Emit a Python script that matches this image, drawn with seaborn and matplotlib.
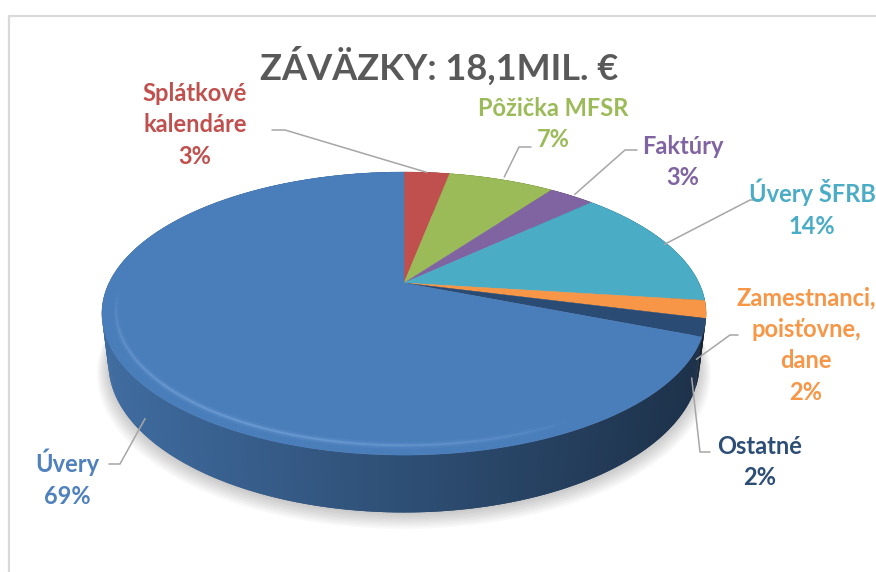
import numpy as np
import matplotlib
matplotlib.use("Agg")
import matplotlib.pyplot as plt
import seaborn as sns
from matplotlib import colors as mcolors

# data
title = "ZÁVÄZKY: 18,1MIL. €"
labels = ["Splátkové\nkalendáre", "Pôžička MFSR", "Faktúry", "Úvery ŠFRB",
          "Zamestnanci,\npoisťovne,\ndane", "Ostatné", "Úvery"]
shares = [3, 7, 3, 14, 2, 2, 69]
slice_colors = ["#C0504D", "#9BBB59", "#8064A2", "#4BACC6", "#F79646", "#2A4B73", "#4A7EBB"]
text_colors = ["#C0504D", "#9BBB59", "#8064A2", "#4BACC6", "#F79646", "#2C4D75", "#4F81BD"]

# layout (pixel space)
label_xy = [(195, 125), (553, 124), (683, 162), (812, 208), (806, 345), (760, 462), (67, 478)]
leader_anchor = [(1.0, 0.0), (1.03, 0.0), (1.02, 0.0), (0.99, 0.0), (0.99, -1.0), (0.98, -1.0), (0.96, -1.0)]
leader_elbow = [[(285, 130), (272, 130)], [(519, 147), (531, 147)], [(625, 150), (637, 150)],
                [(750, 200), (760, 200)], [(730, 335), (738, 335)], [(700, 452), (710, 452)],
                [(120, 464), (109, 464)]]

CX, CY, S = 404, 283, 295
SA, CA, DIST, DEPTH = 0.4575, 0.889, 4.12, 0.19


def project(theta, r=1.0, z=0.0):
    t = np.radians(theta)
    X = r * np.sin(t)
    Y = r * np.cos(t)
    w = 1 + (Y * CA - z * SA) / DIST
    return CX + S * X / w, CY - S * (Y * SA + z * CA) / w


def main():
    sns.set_theme(style="white")
    plt.rcParams["font.family"] = ["Lato", "DejaVu Sans"]

    fig = plt.figure(figsize=(8.76, 5.72), dpi=100)
    ax = fig.add_axes([0, 0, 1, 1])
    ax.set_xlim(0, 876)
    ax.set_ylim(572, 0)
    ax.axis("off")

    ax.plot([9, 9, 876], [572, 15.5, 15.5], color="#D9D9D9", lw=1.6)

    bounds = np.concatenate([[0], np.cumsum(shares)]) / sum(shares) * 360

    # soft shadow
    th = np.linspace(0, 360, 361)
    for k in range(7):
        sx, sy = project(th, 1.0 + 0.006 * k, -DEPTH)
        ax.fill(sx, np.asarray(sy) + 2 + k, color="black", alpha=0.03, lw=0)

    # side walls, drawn back to front in thin overlapping strips
    segs = []
    for i, col in enumerate(slice_colors):
        a0, a1 = bounds[i], bounds[i + 1]
        n = max(int(2 * (a1 - a0)), 1)
        edges = np.linspace(a0, a1, n + 1)
        for s0, s1 in zip(edges[:-1], edges[1:]):
            segs.append((np.cos(np.radians((s0 + s1) / 2)), s0, min(s1 + 0.6, a1), col))
    segs.sort(key=lambda s: -s[0])
    for _, s0, s1, col in segs:
        tt = np.linspace(s0, s1, 4)
        tx, ty = project(tt)
        bx, by = project(tt[::-1], 1.0, -DEPTH)
        xm = (tx.mean() - 100) / 605
        f = 0.86 - 0.47 * np.clip(xm, 0, 1)
        rgb = np.array(mcolors.to_rgb(col)) * f
        ax.fill(np.concatenate([tx, bx]), np.concatenate([ty, by]), color=rgb, lw=0)

    # top surface
    for i, col in enumerate(slice_colors):
        tt = np.linspace(bounds[i], bounds[i + 1], max(int(bounds[i + 1] - bounds[i]) * 2, 4))
        rx, ry = project(tt)
        ax.fill(np.concatenate([[CX], rx]), np.concatenate([[CY], ry]), color=col, lw=0.3, ec=col)

    # soft bevel highlight on the front rim, fading at both ends
    hb = np.linspace(150, 268, 60)
    fade = np.sin(np.linspace(0, np.pi, 59)) ** 0.7
    hx, hy = project(hb, 0.955)
    for j in range(59):
        for lw, al in [(5, 0.08), (2.5, 0.14), (1.2, 0.22)]:
            ax.plot(hx[j:j + 2], hy[j:j + 2], color="#9CC3F2", lw=lw, alpha=al * fade[j],
                    solid_capstyle="butt")

    # leaders and labels
    for i in range(len(shares)):
        mid = (bounds[i] + bounds[i + 1]) / 2
        r, zf = leader_anchor[i]
        px, py = project(mid, r, zf * DEPTH)
        pts = [(px, py)] + leader_elbow[i]
        ax.plot([p[0] for p in pts], [p[1] for p in pts], color="#A6A6A6", lw=1.1)
        x, y = label_xy[i]
        ax.text(x, y, f"{labels[i]}\n{shares[i]}%", ha="center", va="center",
                fontsize=17, fontweight="bold", color=text_colors[i], linespacing=1.45)

    ax.text(439, 66, title, ha="center", va="center", fontsize=26,
            fontweight="bold", color="#595959")

    fig.savefig("out.png", dpi=100)
    plt.close(fig)


if __name__ == "__main__":
    main()
